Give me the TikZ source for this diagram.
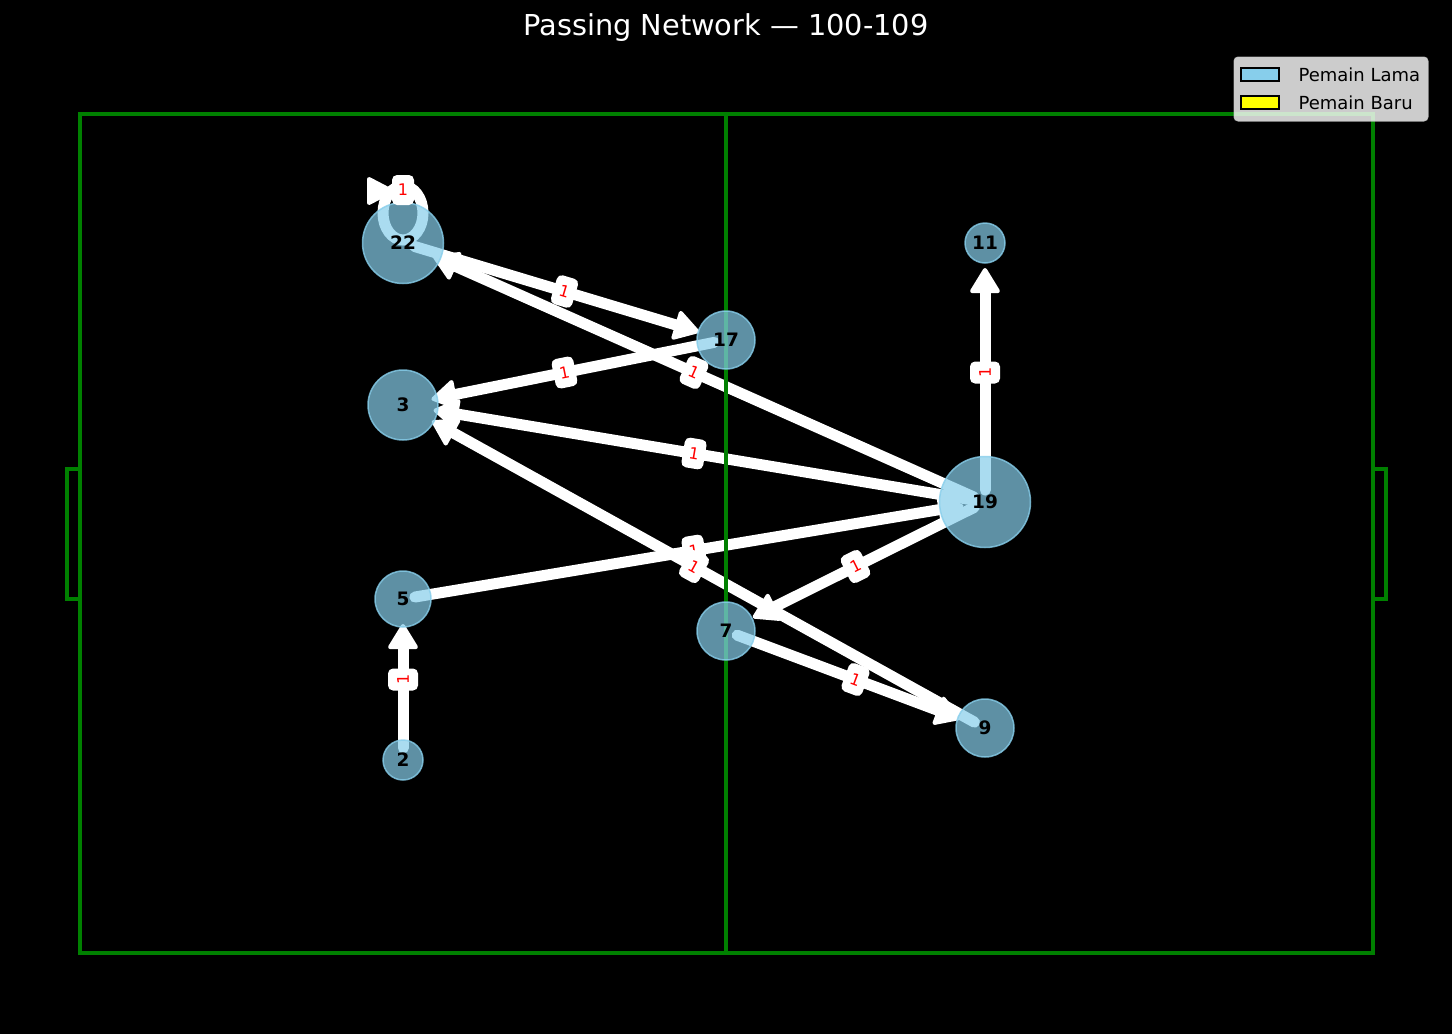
\documentclass[tikz,border=0pt]{standalone}
\usepackage{fontspec}
\setmainfont{DejaVu Sans}
\usetikzlibrary{arrows.meta}
\definecolor{skyb}{RGB}{135,206,235}
\definecolor{pitchgreen}{RGB}{0,128,0}
\definecolor{legyellow}{RGB}{255,255,0}
\pgfdeclarelayer{bg}
\pgfdeclarelayer{edgelayer}
\pgfdeclarelayer{pitchlayer}
\pgfdeclarelayer{top}
\pgfsetlayers{bg,edgelayer,pitchlayer,main,top}
\begin{document}
\begin{tikzpicture}[x=1pt,y=-1pt,
  player/.style={circle, fill=skyb, fill opacity=0.7, draw=skyb, draw opacity=0.8,
    line width=1.5pt, text=black, text opacity=1, inner sep=0pt,
    font=\bfseries\fontsize{18.5}{18.5}\selectfont},
  pass/.style={draw=white, line width=11pt, line cap=round, shorten <=12pt,
    -{Triangle[length=27pt,width=32pt,round,line width=4pt]}},
  elabel/.style={fill=white, text=red, rounded corners=5pt, inner sep=0pt,
    minimum width=22pt, minimum height=30pt, font=\fontsize{16}{16}\selectfont},
  pitchline/.style={draw=pitchgreen, line width=3.5pt},
  legtext/.style={anchor=base west, text=black, font=\fontsize{18}{18}\selectfont},
  legpatch/.style={draw=black, line width=1.5pt},
  titletext/.style={anchor=base, text=white, font=\fontsize{28.8}{30}\selectfont}
]
\begin{pgfonlayer}{bg}
  \fill[black] (0,0) rectangle (1452,1034);
\end{pgfonlayer}
\useasboundingbox (0,0) rectangle (1452,1034);

% players
\node[player, minimum size=81pt] (n22) at (403,243) {22};
\node[player, minimum size=58pt] (n17) at (726,340) {17};
\node[player, minimum size=70pt] (n3)  at (403,405) {3};
\node[player, minimum size=40pt] (n11) at (985,243) {11};
\node[player, minimum size=91pt] (n19) at (985,502) {19};
\node[player, minimum size=56pt] (n5)  at (403,599) {5};
\node[player, minimum size=58pt] (n7)  at (726,631) {7};
\node[player, minimum size=58pt] (n9)  at (985,728) {9};
\node[player, minimum size=40pt] (n2)  at (403,760) {2};

% passes
\begin{pgfonlayer}{edgelayer}
  \draw[pass, shorten >=28pt] (n22.center) -- (n17.center);
  \draw[pass, shorten >=33pt] (n19.center) -- (n22.center);
  \draw[pass, shorten >=29pt] (n17.center) -- (n3.center);
  \draw[pass, shorten >=31pt] (n19.center) -- (n3.center);
  \draw[pass, shorten >=33pt] (n9.center) -- (n3.center);
  \draw[pass, shorten >=22pt] (n5.center) -- (n19.center);
  \draw[pass, shorten >=30pt] (n19.center) -- (n7.center);
  \draw[pass, shorten >=26pt] (n7.center) -- (n9.center);
  \draw[pass, shorten >=25pt] (n19.center) -- (n11.center);
  \draw[pass, shorten >=25pt] (n2.center) -- (n5.center);
  % self pass of 22
  \draw[draw=white, line width=11pt]
    ([yshift=30pt]n22.center) ellipse [x radius=20pt, y radius=27pt];
  \fill[white, draw=white, line width=4pt, line join=round]
    ([shift={(-34,-64)}]n22.center) -- ([shift={(-34,-40)}]n22.center)
    -- ([shift={(-11,-52)}]n22.center) -- cycle;
\end{pgfonlayer}

% pitch
\begin{pgfonlayer}{pitchlayer}
  \draw[pitchline] (80,114) rectangle (1373,953);
  \draw[pitchline] (726,114) -- (726,953);
  \draw[pitchline] (80,469) -- (67,469) -- (67,599) -- (80,599);
  \draw[pitchline] (1373,469) -- (1386,469) -- (1386,599) -- (1373,599);
\end{pgfonlayer}

% labels, title, legend
\begin{pgfonlayer}{top}
  \path (n22.center) -- node[elabel, rotate=-16.7] {1} (n17.center);
  \path (n19.center) -- node[elabel, rotate=-24.0] {1} (n22.center);
  \path (n17.center) -- node[elabel, rotate=11.4] {1} (n3.center);
  \path (n19.center) -- node[elabel, rotate=-9.5] {1} (n3.center);
  \path (n5.center) -- node[elabel, rotate=9.5] {1} (n19.center);
  \path (n9.center) -- node[elabel, rotate=-29.0] {1} (n3.center);
  \path (n19.center) -- node[elabel, rotate=26.5] {1} (n7.center);
  \path (n7.center) -- node[elabel, rotate=-20.5] {1} (n9.center);
  \path (n19.center) -- node[elabel, rotate=90] {1} (n11.center);
  \path (n2.center) -- node[elabel, rotate=90] {1} (n5.center);
  \node[elabel] (selflab) at ([yshift=53pt]n22.center) {1};

  \node[titletext] (title) at (726,35) {Passing Network — 100-109};

  \path[fill=white, fill opacity=0.8, draw=white!80!black, draw opacity=0.8,
        line width=1pt, rounded corners=4pt] (1234,57) rectangle (1428,121);
  \fill[skyb, legpatch] (1241,68) rectangle (1279,81);
  \fill[legyellow, legpatch] (1241,96) rectangle (1279,109);
  \node[legtext] (leg1) at (1295,81) {Pemain Lama};
  \node[legtext] (leg2) at (1295,109) {Pemain Baru};
\end{pgfonlayer}
\end{tikzpicture}
\end{document}
